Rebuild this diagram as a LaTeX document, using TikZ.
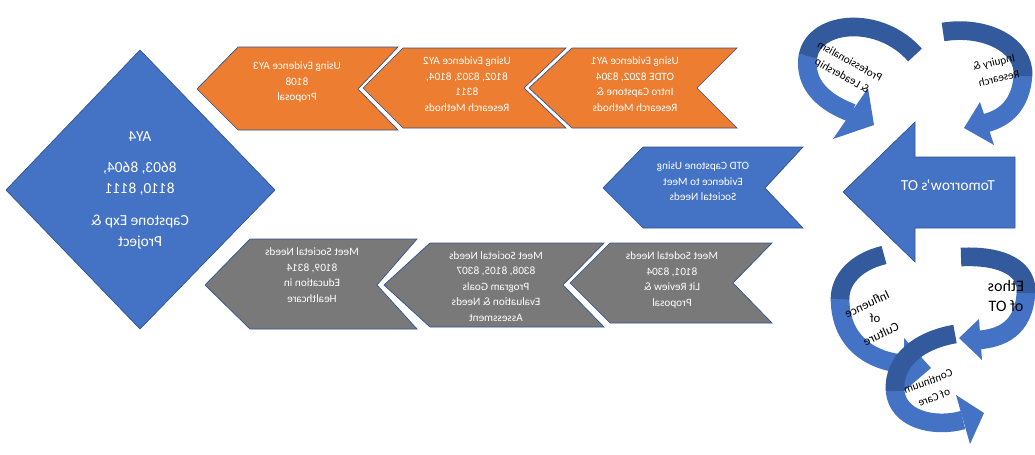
\documentclass[tikz,border=0pt]{standalone}
\usepackage{graphicx}
\usepackage{fontspec}
\setmainfont{Carlito}
\definecolor{orng}{HTML}{ED7D31}
\definecolor{blu}{HTML}{4472C4}
\definecolor{gry}{HTML}{797979}
\definecolor{outl}{HTML}{2F528F}
\definecolor{dkblu}{HTML}{335A9C}
\newcommand{\mtext}[1]{\reflectbox{\begin{tabular}{@{}c@{}}#1\end{tabular}}}
\tikzset{
  chev/.style={draw=outl, line width=0.5pt},
  ctext/.style={text=white, inner sep=0pt, font=\fontsize{8.4}{11.6}\selectfont},
  btext/.style={text=white, inner sep=0pt, font=\fontsize{11.5}{15.75}\selectfont},
  lbl/.style={text=black, inner sep=0pt, font=\fontsize{8.5}{10}\selectfont},
  band/.style={line width=14pt, line cap=butt, line join=round},
}
\begin{document}
\begin{tikzpicture}[x=0.75pt,y=-0.75pt]
\useasboundingbox (0,0) rectangle (1035,454);

% orange chevrons
\fill[orng, chev] (572,48) -- (737,48) -- (697,88) -- (737,128) -- (572,128) -- (529,88) -- cycle;
\fill[orng, chev] (403,48) -- (566,48) -- (524,88) -- (566,128) -- (403,128) -- (363,88) -- cycle;
\fill[orng, chev] (238,47) -- (398,47) -- (358,89) -- (398,130) -- (238,130) -- (197,89) -- cycle;
\node[ctext] (ay1) at (635,85) {\mtext{Using Evidence AY1\\ OTDE 8202, 8304\\ Intro Capstone \&\\ Research Methods}};
\node[ctext] (ay2) at (467,85) {\mtext{Using Evidence AY2\\ 8102, 8303, 8104,\\ 8311\\ Research Methods}};
\node[ctext] (ay3) at (297,82) {\mtext{Using Evidence AY3\\ 8108\\ Proposal}};

% blue chevron
\fill[blu, chev] (643,147) -- (803,147) -- (765,188) -- (803,228) -- (643,228) -- (603,188) -- cycle;
\node[ctext] (otd) at (703,182) {\mtext{OTD Capstone Using\\ Evidence to Meet\\ Societal Needs}};

% gray chevrons
\fill[gry, chev] (610,243) -- (772,243) -- (733,283) -- (772,323) -- (610,323) -- (570,283) -- cycle;
\fill[gry, chev] (430,243) -- (604,243) -- (563,285) -- (604,327) -- (430,327) -- (384,285) -- cycle;
\fill[gry, chev] (250,239) -- (417,239) -- (377,285) -- (417,329) -- (250,329) -- (205,285) -- cycle;
\node[ctext] (g1) at (672,280) {\mtext{Meet Sodetal Needs\\ 8101, 8304\\ Lit Review \&\\ Proposal}};
\node[ctext] (g2) at (496,287) {\mtext{Meet Societal Needs\\ 8308, 8105, 8307\\ Program Goals\\ Evaluation \& Needs\\ Assessment}};
\node[ctext] (g3) at (312,276) {\mtext{Meet Societal Needs\\ 8109, 8314\\ Education in\\ Healthcare}};

% diamond
\fill[blu, chev] (140,50) -- (275,190) -- (140,329) -- (6,190) -- cycle;
\node[btext] (ay4) at (140,137) {\mtext{AY4}};
\node[btext] (ay4n) at (140,178.5) {\mtext{8603, 8604,\\ 8110, 8111}};
\node[btext] (ay4c) at (140,232) {\mtext{Capstone Exp \&\\ Project}};

% big arrow
\fill[blu, chev] (843,192) -- (915,122) -- (915,157) -- (1015,157) -- (1015,228) -- (915,228) -- (915,262) -- cycle;
\node[btext] (tom) at (948,186) {\mtext{Tomorrow’s OT}};

% curved arrow: professionalism
\draw[band, blu] (808,55) .. controls (803,85) and (825,103) .. (852,113);
\draw[band, dkblu] (915,55) .. controls (880,15) and (815,20) .. (808,56);
\fill[blu] (868,88) -- (874,125) -- (833,139) -- cycle;
\node[lbl, rotate=-29] (prof) at (850,61) {\reflectbox{Professionalism}};
\node[lbl, rotate=-29] (lead) at (842,76) {\reflectbox{\& Leadership}};

% curved arrow: inquiry
\draw[band, blu] (1023,75) .. controls (1021,105) and (1005,118) .. (986,123);
\draw[band, dkblu] (943,32) .. controls (985,25) and (1025,45) .. (1023,76);
\fill[blu] (980,102) -- (964,128) -- (994,145) -- cycle;
\node[lbl, rotate=13] (inq) at (994,63) {\reflectbox{Inquiry \&}};
\node[lbl, rotate=13] (res) at (999,78) {\reflectbox{Research}};

% curved arrow: ethos
\draw[band, blu] (1026,292) .. controls (1024,330) and (1000,338) .. (979,340);
\draw[band, dkblu] (961,257) .. controls (1005,255) and (1028,270) .. (1026,293);
\fill[blu] (979,319) -- (959,338) -- (982,360) -- cycle;
\node[text=black, inner sep=0pt, font=\fontsize{12}{15}\selectfont] (eth) at (1006,297) {\mtext{Ethos\\ of OT}};

% curved arrow: influence of culture
\draw[band, blu] (840,298) .. controls (840,345) and (875,362) .. (905,364);
\draw[band, dkblu] (884,255) .. controls (855,262) and (840,280) .. (840,299);
\fill[blu] (904,338) -- (931,368) -- (904,391) -- cycle;
\node[lbl, font=\fontsize{9.5}{11}\selectfont, rotate=25] (inf) at (867,304) {\reflectbox{Influence}};
\node[lbl, font=\fontsize{9.5}{11}\selectfont] (infof) at (875,318) {\reflectbox{of}};
\node[lbl, font=\fontsize{9.5}{11}\selectfont, rotate=25] (cul) at (881,334) {\reflectbox{Culture}};

% curved arrow: continuum of care
\draw[band, blu] (895,390) .. controls (897,420) and (935,428) .. (963,420);
\draw[band, dkblu] (955,334) .. controls (920,340) and (893,360) .. (895,391);
\fill[blu] (956,395) -- (984,413) -- (970,444) -- cycle;
\node[lbl, rotate=20] (cont) at (928,381) {\reflectbox{Continuum}};
\node[lbl, rotate=20] (care) at (934,397) {\reflectbox{of Care}};
\end{tikzpicture}
\end{document}
